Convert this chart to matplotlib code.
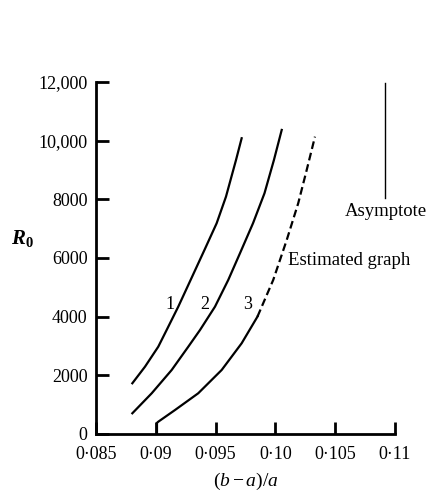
import matplotlib
matplotlib.use('Agg')
import matplotlib.pyplot as plt

# valores
x1 = [0.08804, 0.08910, 0.09021, 0.09091, 0.09188, 0.09304, 0.09407, 0.09509, 0.09587, 0.09671, 0.09718]
y1 = [1729, 2295, 2977, 3546, 4340, 5363, 6273, 7184, 8091, 9342, 10082]

x2 = [0.08804, 0.08966, 0.09133, 0.09272, 0.09370, 0.09495, 0.09606, 0.09704, 0.09813, 0.09909, 0.09988, 0.10053]
y2 = [706, 1388, 2182, 2977, 3546, 4340, 5251, 6161, 7184, 8207, 9342, 10365]

x3 = [0.0901, 0.0901, 0.09021, 0.09161, 0.09355, 0.09551, 0.09718, 0.09850]
y3 = [0, 380, 419, 818, 1388, 2182, 3092, 3999]

x3_est = [0.09850, 0.09982, 0.10095, 0.10191, 0.10262, 0.10331]
y3_est = [3999, 5251, 6614, 7866, 9001, 10136]

asintota_x = 0.1092
asintota_y = [8050, 11970]

xticks = [0.085, 0.09, 0.095, 0.10, 0.105, 0.11]
xticklabels = ['0·085', '0·09', '0·095', '0·10', '0·105', '0·11']
yticks = [0, 2000, 4000, 6000, 8000, 10000, 12000]
yticklabels = ['0', '2000', '4000', '6000', '8000', '10,000', '12,000']

plt.rcParams['font.family'] = 'Liberation Serif'
plt.rcParams['mathtext.fontset'] = 'custom'
plt.rcParams['mathtext.rm'] = 'Liberation Serif'
plt.rcParams['mathtext.it'] = 'Liberation Serif:italic'
plt.rcParams['mathtext.bf'] = 'Liberation Serif:bold'
plt.rcParams['mathtext.bfit'] = 'Liberation Serif:italic:bold'

fig = plt.figure(figsize=(4.31, 4.93), dpi=100)
ax = fig.add_axes([0.2227, 0.1197, 0.6937, 0.714])

ax.plot(x1, y1, color='black', lw=1.6)
ax.plot(x2, y2, color='black', lw=1.6)
ax.plot(x3, y3, color='black', lw=1.6)
ax.plot(x3_est, y3_est, color='black', lw=1.6, dashes=(3.5, 1.8))
ax.plot([asintota_x, asintota_x], asintota_y, color='black', lw=1.0)

ax.text(0.09119, 4400, '1', fontsize=13, ha='center', va='center')
ax.text(0.09411, 4400, '2', fontsize=13, ha='center', va='center')
ax.text(0.09771, 4400, '3', fontsize=13, ha='center', va='center')
ax.text(asintota_x, 7570, 'Asymptote', fontsize=13.5, ha='center', va='center')
ax.text(0.10105, 5930, 'Estimated graph', fontsize=13.5, ha='left', va='center')

ax.set_xlim(0.085, 0.11)
ax.set_ylim(0, 12000)
ax.set_xticks(xticks)
ax.set_xticklabels(xticklabels, fontsize=13)
ax.set_yticks(yticks)
ax.set_yticklabels(yticklabels, fontsize=13)
ax.tick_params(direction='in', length=9, width=2, pad=6)
ax.tick_params(axis='x', pad=9)

for s in ['top', 'right']:
    ax.spines[s].set_visible(False)
for s in ['left', 'bottom']:
    ax.spines[s].set_linewidth(2)

ax.set_xlabel(r'$(b-a)/a$', fontsize=14, labelpad=5)
fig.text(0.052, 0.517, r'$\mathbfit{R}_\mathbf{0}$', fontsize=15, ha='center', va='center')

plt.savefig('out.png', dpi=100)
